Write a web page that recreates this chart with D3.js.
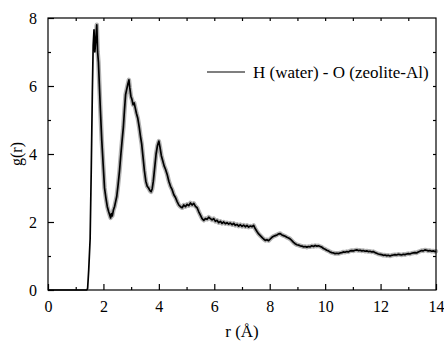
<!DOCTYPE html>
<html>
<head>
<meta charset="utf-8">
<script src="https://cdn.jsdelivr.net/npm/d3@7"></script>
<style>
  html, body { margin: 0; padding: 0; background: #fff; }
  svg { display: block; }
  text { font-family: "Liberation Serif", "Times New Roman", serif; fill: #000; }
</style>
</head>
<body>
<svg id="chart" width="444" height="341"></svg>
<script>
// Radial distribution function g(r): H (water) - O (zeolite-Al)
const rValues = [
  0, 0.5, 1.0, 1.40, 1.43, 1.47, 1.52, 1.56, 1.60, 1.63, 1.66, 1.69, 1.72, 1.76, 1.79,
  1.82, 1.85, 1.89, 1.94, 1.99, 2.04, 2.09, 2.14, 2.19, 2.23, 2.26, 2.29, 2.32, 2.36, 2.40,
  2.44, 2.48, 2.53, 2.58, 2.63, 2.68, 2.72, 2.76, 2.80, 2.84, 2.88, 2.92, 2.95, 2.99, 3.03,
  3.07, 3.11, 3.15, 3.19, 3.24, 3.29, 3.34, 3.38, 3.43, 3.48, 3.53, 3.58, 3.63, 3.68, 3.72,
  3.76, 3.80, 3.85, 3.90, 3.95, 4.00, 4.04, 4.09, 4.14, 4.19, 4.24, 4.30, 4.36, 4.42, 4.48,
  4.54, 4.60, 4.66, 4.72, 4.78, 4.84, 4.90, 4.96, 5.02, 5.08, 5.14, 5.20, 5.26, 5.32, 5.38,
  5.44, 5.50, 5.56, 5.62, 5.68, 5.74, 5.80, 5.86, 5.92, 5.98, 6.04, 6.10, 6.16, 6.22, 6.28,
  6.34, 6.40, 6.46, 6.52, 6.58, 6.64, 6.70, 6.76, 6.82, 6.88, 6.94, 7.00, 7.06, 7.12, 7.18,
  7.24, 7.30, 7.36, 7.42, 7.48, 7.54, 7.60, 7.66, 7.72, 7.78, 7.84, 7.90, 7.96, 8.02, 8.08,
  8.14, 8.20, 8.26, 8.32, 8.38, 8.44, 8.50, 8.56, 8.62, 8.68, 8.74, 8.80, 8.86, 8.92, 8.98,
  9.04, 9.10, 9.16, 9.22, 9.28, 9.34, 9.40, 9.46, 9.52, 9.58, 9.64, 9.70, 9.76, 9.82, 9.88,
  9.94, 10.00, 10.06, 10.12, 10.18, 10.24, 10.30, 10.36, 10.42, 10.48, 10.54, 10.60, 10.66, 10.72, 10.78,
  10.84, 10.90, 10.96, 11.02, 11.08, 11.14, 11.20, 11.26, 11.32, 11.38, 11.44, 11.50, 11.56, 11.62, 11.68,
  11.74, 11.80, 11.86, 11.92, 11.98, 12.04, 12.10, 12.16, 12.22, 12.28, 12.34, 12.40, 12.46, 12.52, 12.58,
  12.64, 12.70, 12.76, 12.82, 12.88, 12.94, 13.00, 13.06, 13.12, 13.18, 13.24, 13.30, 13.36, 13.42, 13.48,
  13.54, 13.60, 13.66, 13.72, 13.78, 13.84, 13.90, 13.96, 14.00
];
const gValues = [
  0, 0, 0, 0, 0.05, 0.6, 1.5, 3.5, 5.8, 7.2, 7.65, 7.0, 7.3, 7.8, 7.0,
  6.7, 6.1, 5.3, 4.4, 3.7, 3.0, 2.7, 2.45, 2.3, 2.2, 2.12, 2.25, 2.18, 2.35, 2.45,
  2.6, 2.75, 3.1, 3.5, 4.0, 4.45, 4.8, 5.3, 5.75, 5.9, 6.05, 6.18, 5.95, 5.7, 5.6,
  5.45, 5.5, 5.35, 5.2, 5.05, 4.8, 4.5, 4.3, 3.9, 3.5, 3.2, 3.05, 3.0, 2.92, 2.89,
  2.98, 3.2, 3.6, 4.0, 4.25, 4.38, 4.2, 3.95, 3.8, 3.65, 3.55, 3.4, 3.2, 3.05, 2.95,
  2.8, 2.72, 2.6, 2.5, 2.45, 2.42, 2.5, 2.45, 2.52, 2.48, 2.56, 2.5, 2.55, 2.46, 2.42,
  2.3, 2.2, 2.1, 2.05, 2.1, 2.08, 2.14, 2.1, 2.06, 2.1, 2.02, 2.05, 1.98, 2.02, 1.96,
  2.0, 1.95, 1.98, 1.94, 1.97, 1.92, 1.96, 1.9, 1.93, 1.88, 1.92, 1.87, 1.91, 1.86, 1.9,
  1.85, 1.88, 1.86, 1.9, 1.8, 1.72, 1.65, 1.6, 1.55, 1.5, 1.46, 1.48, 1.45, 1.5, 1.55,
  1.58, 1.6, 1.62, 1.65, 1.66, 1.62, 1.6, 1.58, 1.55, 1.53, 1.5, 1.45, 1.4, 1.36, 1.33,
  1.32, 1.3, 1.29, 1.27, 1.28, 1.26, 1.28, 1.27, 1.3, 1.28, 1.31, 1.29, 1.3, 1.28, 1.26,
  1.22, 1.2, 1.17, 1.15, 1.12, 1.1, 1.09, 1.07, 1.08, 1.07, 1.09, 1.1, 1.12, 1.11, 1.13,
  1.12, 1.15, 1.16, 1.15, 1.17, 1.18, 1.16, 1.17, 1.15, 1.16, 1.14, 1.15, 1.13, 1.14, 1.12,
  1.13, 1.1, 1.08, 1.06, 1.05, 1.04, 1.02, 1.03, 1.01, 1.02, 1.0, 1.02, 1.03, 1.04, 1.03,
  1.05, 1.04, 1.03, 1.05, 1.04, 1.06, 1.07, 1.06, 1.08, 1.09, 1.1, 1.09, 1.12, 1.14, 1.16,
  1.15, 1.18, 1.17, 1.15, 1.16, 1.14, 1.15, 1.13, 1.14
];

const xTicks = [0, 2, 4, 6, 8, 10, 12, 14];
const yTicks = [0, 2, 4, 6, 8];
const seriesLabel = "H (water) - O (zeolite-Al)";
const xTitle = "r (Å)";
const yTitle = "g(r)";

const svg = d3.select("#chart");
const margin = { left: 48, right: 8, top: 18, bottom: 51 };
const W = 444, H = 341;
const x = d3.scaleLinear().domain([0, 14]).range([margin.left, W - margin.right]);
const y = d3.scaleLinear().domain([0, 8]).range([H - margin.bottom, margin.top]);

const points = rValues.map((r, i) => [r, gValues[i]]);
const line = d3.line().x(d => x(d[0])).y(d => y(d[1]));

// fluctuation band of the simulated curve (beyond the first rise)
svg.append("path")
  .datum(points.filter(d => d[0] >= 1.72))
  .attr("fill", "none")
  .attr("stroke", "#000")
  .attr("stroke-opacity", 0.3)
  .attr("stroke-width", 4.5)
  .attr("stroke-linejoin", "round")
  .attr("stroke-linecap", "round")
  .attr("d", line);

// data curve
svg.append("path")
  .datum(points)
  .attr("fill", "none")
  .attr("stroke", "#000")
  .attr("stroke-width", 1.7)
  .attr("stroke-linejoin", "round")
  .attr("d", line);

// frame
svg.append("rect")
  .attr("x", x(0)).attr("y", y(8))
  .attr("width", x(14) - x(0)).attr("height", y(0) - y(8))
  .attr("fill", "none").attr("stroke", "#000").attr("stroke-width", 1.2);

const fontSize = 16;
const serif = "'Liberation Serif', 'Times New Roman', serif";

// bottom axis: major ticks inward with labels, minor ticks in between
const xAxis = d3.axisBottom(x).tickValues(xTicks).tickSizeInner(-6).tickSizeOuter(0).tickPadding(11);
const gx = svg.append("g").attr("transform", `translate(0,${y(0)})`).call(xAxis);
gx.attr("font-family", serif);
gx.select(".domain").remove();
gx.selectAll("text").attr("font-size", fontSize);
gx.selectAll("line").attr("stroke-width", 1.2);
const xMinor = d3.axisBottom(x).tickValues(d3.range(1, 14, 2)).tickSizeInner(-3).tickSizeOuter(0).tickFormat("");
const gxm = svg.append("g").attr("transform", `translate(0,${y(0)})`).call(xMinor);
gxm.select(".domain").remove();
gxm.selectAll("line").attr("stroke-width", 1.2);

// left axis
const yAxis = d3.axisLeft(y).tickValues(yTicks).tickSizeInner(-6).tickSizeOuter(0).tickPadding(11);
const gy = svg.append("g").attr("transform", `translate(${x(0)},0)`).call(yAxis);
gy.attr("font-family", serif);
gy.select(".domain").remove();
gy.selectAll("text").attr("font-size", fontSize);
gy.selectAll("line").attr("stroke-width", 1.2);
const yMinor = d3.axisLeft(y).tickValues([1, 3, 5, 7]).tickSizeInner(-3).tickSizeOuter(0).tickFormat("");
const gym = svg.append("g").attr("transform", `translate(${x(0)},0)`).call(yMinor);
gym.select(".domain").remove();
gym.selectAll("line").attr("stroke-width", 1.2);

// top and right mirror ticks
const gt = svg.append("g").attr("transform", `translate(0,${y(8)})`)
  .call(d3.axisTop(x).tickValues(d3.range(1, 14)).tickSizeInner(-3).tickSizeOuter(0).tickFormat(""));
gt.select(".domain").remove();
gt.selectAll("line").attr("stroke-width", 1.2);
const gr = svg.append("g").attr("transform", `translate(${x(14)},0)`)
  .call(d3.axisRight(y).tickValues(d3.range(1, 8)).tickSizeInner(-3).tickSizeOuter(0).tickFormat(""));
gr.select(".domain").remove();
gr.selectAll("line").attr("stroke-width", 1.2);

// axis titles
svg.append("text")
  .attr("x", (x(0) + x(14)) / 2).attr("y", 337)
  .attr("text-anchor", "middle").attr("font-size", 17)
  .text(xTitle);
svg.append("text")
  .attr("transform", `translate(22,${(y(0) + y(8)) / 2}) rotate(-90)`)
  .attr("text-anchor", "middle").attr("font-size", 16)
  .text(yTitle);

// legend
const lg = svg.append("g");
lg.append("line")
  .attr("x1", 207).attr("x2", 245).attr("y1", 72).attr("y2", 72)
  .attr("stroke", "#000").attr("stroke-width", 1.2);
lg.append("text")
  .attr("x", 253).attr("y", 78)
  .attr("font-size", 17)
  .text(seriesLabel);
</script>
</body>
</html>
